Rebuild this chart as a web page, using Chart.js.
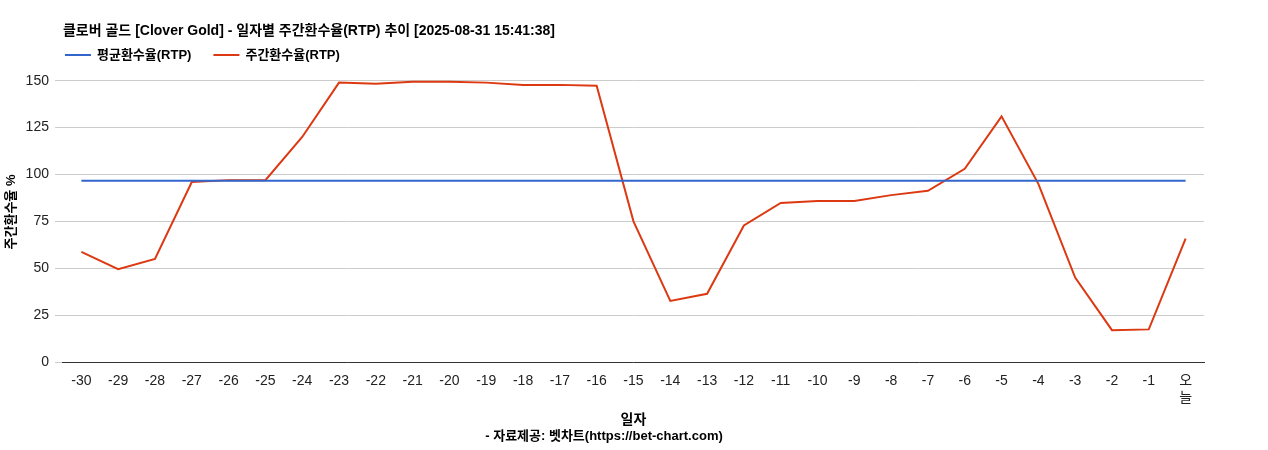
<!DOCTYPE html>
<html><head><meta charset="utf-8">
<script src="https://cdn.jsdelivr.net/npm/chart.js@4"></script>
<style>html,body{margin:0;padding:0;background:#fff}#w{width:1268px;height:450px}</style>
</head><body><div id="w"><canvas id="c"></canvas></div>
<script>
const categories=["-30","-29","-28","-27","-26","-25","-24","-23","-22","-21","-20","-19","-18","-17","-16","-15","-14","-13","-12","-11","-10","-9","-8","-7","-6","-5","-4","-3","-2","-1",["오","늘"]];
const weeklyRtp=[58.7,49.5,55,96,97,97,120,149,148.4,149.5,149.5,149,147.8,147.8,147.3,75,32.6,36.4,72.8,84.8,85.9,85.9,89,91.3,103,131,95,45,17,17.4,65.8];
const avgRtp=categories.map(()=>96.7);
const yTicks=[0,25,50,75,100,125,150];
const F="'Liberation Sans','Noto Sans CJK KR',sans-serif";
Chart.defaults.font.family=F;Chart.defaults.color='#222';
const TITLE='클로버 골드 [Clover Gold] - 일자별 주간환수율(RTP) 추이 [2025-08-31 15:41:38]';
const header={id:'header',afterDraw(ch){const c=ch.ctx,l=ch.chartArea.left;c.save();c.fillStyle='#000';c.textBaseline='middle';
c.font="bold 14px "+F;c.fillText(TITLE,l,31);
let x=l;c.font="bold 13px "+F;
ch.data.datasets.forEach(d=>{c.strokeStyle=d.borderColor;c.lineWidth=2;c.beginPath();c.moveTo(x+2,55);c.lineTo(x+28,55);c.stroke();x+=34;c.fillStyle='#000';c.fillText(d.label,x,55);x+=c.measureText(d.label).width+20;});
c.restore();}};
new Chart(document.getElementById('c'),{type:'line',
data:{labels:categories,datasets:[
{label:'평균환수율(RTP)',data:avgRtp,borderColor:'#3366cc',backgroundColor:'#3366cc',borderWidth:2,pointRadius:0,tension:0},
{label:'주간환수율(RTP)',data:weeklyRtp,borderColor:'#dc3912',backgroundColor:'#dc3912',borderWidth:2,pointRadius:0,tension:0}]},
plugins:[header],
options:{responsive:true,maintainAspectRatio:false,animation:false,
layout:{padding:{left:4,right:64,top:62,bottom:4}},
plugins:{title:{display:false},
subtitle:{display:true,position:'bottom',text:'- 자료제공: 벳차트(https://bet-chart.com)',font:{size:13,weight:'bold'},color:'#000',padding:{top:0,bottom:2}},
legend:{display:false},tooltip:{enabled:false}},
scales:{x:{offset:true,grid:{display:false},border:{color:'#333'},ticks:{font:{size:14},color:'#222',maxRotation:0,autoSkip:false},title:{display:true,text:'일자',font:{size:14,weight:'bold'},color:'#000',padding:{top:2,bottom:0}}},
y:{min:0,max:160,afterBuildTicks:a=>{a.ticks=yTicks.map(v=>({value:v}))},grid:{color:'#ccc'},border:{display:false},ticks:{font:{size:14},color:'#222',padding:6},title:{display:true,text:'주간환수율 %',font:{size:13,weight:'bold'},color:'#000',padding:0}}}}});
</script></body></html>
